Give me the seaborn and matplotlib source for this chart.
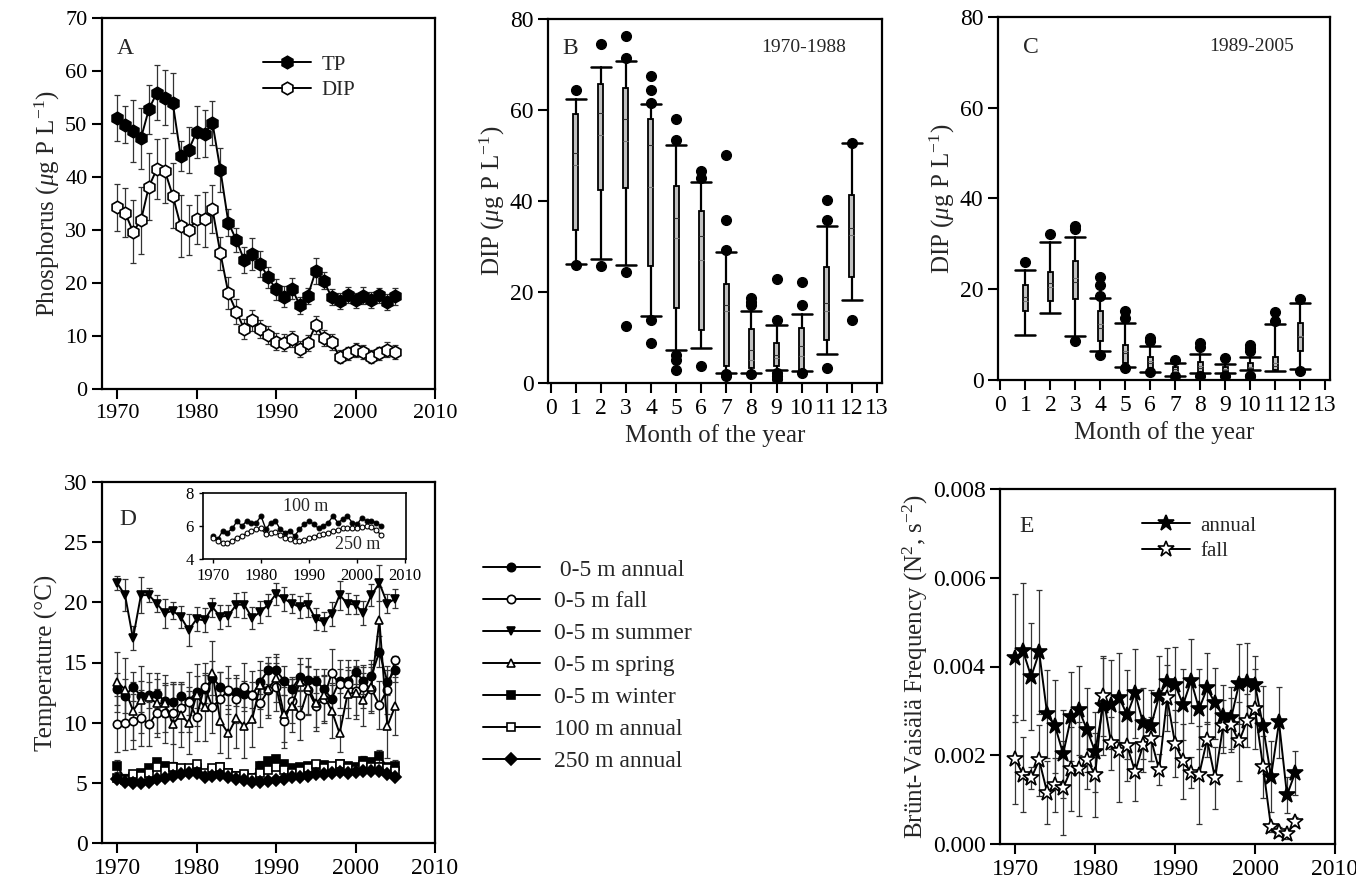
import numpy as np
import matplotlib
matplotlib.use("Agg")
import matplotlib.pyplot as plt
import seaborn as sns

# ---- data ----
years = np.arange(1970, 2006)

# A: phosphorus
tp = [51.1, 49.9, 48.7, 47.3, 52.8, 55.9, 55.0, 54.0, 44.0, 45.1, 48.5, 48.2, 50.2, 41.3,
      31.4, 28.1, 24.3, 25.4, 23.6, 21.1, 18.8, 17.4, 18.9, 15.8, 17.6, 22.3, 20.4, 17.3,
      16.6, 17.7, 16.7, 17.6, 16.8, 17.7, 16.5, 17.5]
tp_err = [4.3, 3.5, 5.8, 5.7, 4.6, 5.2, 5.2, 5.7, 2.8, 4.4, 4.9, 4.5, 4.2, 4.1,
          2.6, 2.2, 2.5, 3.0, 2.4, 2.0, 2.0, 2.0, 2.0, 1.6, 1.5, 2.4, 1.6, 1.5,
          1.5, 1.5, 1.5, 1.6, 1.5, 1.4, 1.5, 1.6]
dip = [34.3, 33.3, 29.7, 31.8, 38.2, 41.5, 41.2, 36.5, 30.8, 30.0, 32.0, 32.0, 33.9, 25.6,
       18.1, 14.6, 11.3, 13.0, 11.3, 10.1, 8.9, 8.7, 9.4, 7.5, 8.7, 12.1, 9.6, 8.8,
       6.1, 6.7, 7.4, 7.0, 6.1, 6.7, 7.4, 7.0]
dip_err = [4.4, 4.7, 6.0, 6.4, 6.4, 5.7, 6.1, 6.1, 5.8, 4.7, 4.6, 5.2, 4.5, 3.1,
           3.0, 2.4, 1.9, 2.0, 1.7, 1.7, 1.6, 1.6, 1.5, 1.5, 1.5, 1.7, 1.5, 1.5,
           1.2, 1.3, 1.3, 1.3, 1.2, 1.3, 1.4, 1.3]

# B: DIP by month 1970-1988
months = list(range(1, 13))
b_q1 = [33.7, 42.5, 42.9, 25.8, 16.5, 11.7, 3.8, 3.3, 3.7, 2.9, 9.5, 23.2]
b_med = [50.5, 59.3, 58.0, 52.4, 36.3, 32.4, 17.2, 7.3, 6.2, 8.1, 17.6, 34.0]
b_q3 = [59.2, 65.8, 64.8, 58.0, 43.2, 37.7, 21.8, 11.9, 8.9, 12.1, 25.5, 41.3]
b_mean = [48.0, 54.4, 53.1, 43.0, 31.9, 27.1, 15.8, 5.1, 5.5, 5.9, 15.8, 32.5]
b_lo = [26.2, 27.3, 26.0, 14.8, 7.2, 7.7, 2.2, 2.2, 2.8, 2.6, 6.4, 18.3]
b_hi = [62.4, 69.5, 70.7, 61.3, 52.2, 44.1, 28.8, 15.9, 12.7, 15.2, 34.6, 52.7]
b_out = [[64.5, 26.0], [74.5, 25.8], [76.2, 71.4, 24.5, 12.5], [67.4, 64.5, 61.5, 13.9, 8.9],
         [58.0, 53.5, 6.2, 5.1, 2.9], [46.7, 45.1, 3.8], [50.2, 35.8, 29.3, 2.0, 1.5],
         [18.7, 17.9, 17.2, 2.0], [22.9, 13.8, 2.2, 1.5, 0.9], [22.1, 17.2, 2.2],
         [40.3, 35.9, 3.3], [52.7, 13.9]]

# C: DIP by month 1989-2005
c_q1 = [15.1, 17.4, 17.9, 8.6, 3.7, 2.6, 1.2, 1.5, 1.8, 2.2, 2.2, 6.5]
c_med = [18.2, 21.3, 21.7, 11.4, 5.9, 3.8, 2.4, 2.6, 2.3, 2.6, 3.0, 9.5]
c_q3 = [21.0, 23.8, 26.3, 15.2, 7.7, 5.1, 2.9, 4.0, 2.9, 3.7, 5.0, 12.5]
c_mean = [17.5, 20.5, 22.5, 12.3, 6.3, 4.2, 2.0, 3.0, 2.4, 2.8, 3.8, 9.8]
c_lo = [9.9, 14.7, 9.6, 6.5, 2.9, 1.8, 0.95, 1.5, 1.6, 2.1, 2.0, 2.5]
c_hi = [24.3, 30.5, 31.5, 18.0, 12.6, 7.5, 3.7, 5.7, 3.5, 5.0, 12.3, 17.0]
c_out = [[25.9], [32.2], [34.0, 33.2, 8.5], [22.8, 21.0, 18.6, 5.5], [15.2, 13.6, 2.6],
         [9.2, 8.5, 1.7], [4.5, 0.9], [8.1, 7.3, 0.9], [4.8, 0.9], [7.7, 7.0, 6.3, 0.9, 0.8],
         [15.0, 13.0], [17.8, 2.0]]

# D: temperature
t_annual = [12.8, 12.2, 13.0, 12.2, 12.3, 12.4, 11.8, 11.7, 12.2, 11.8, 12.55, 12.8, 13.7, 13.0,
            12.6, 12.55, 12.4, 12.3, 13.4, 14.35, 14.35, 13.5, 12.8, 13.8, 13.55, 13.5, 12.8, 12.0,
            13.5, 13.5, 14.2, 13.5, 13.9, 15.9, 13.4, 14.4]
t_annual_err = [1.3, 1.4, 1.2, 1.3, 1.1, 1.2, 1.3, 1.5, 1.2, 1.2, 1.3, 1.2, 1.4, 1.2,
                1.1, 1.2, 1.1, 1.1, 1.0, 1.1, 1.1, 1.2, 1.0, 1.1, 1.1, 1.0, 1.1, 1.1,
                1.0, 1.1, 1.0, 1.1, 1.0, 1.3, 1.0, 1.0]
t_fall = [9.9, 10.0, 10.1, 10.4, 9.9, 10.8, 10.8, 10.8, 11.2, 11.7, 10.5, 13.0, 11.3, 12.0,
          12.7, 12.0, 13.0, 12.3, 11.6, 12.7, 13.0, 10.1, 11.8, 10.6, 12.7, 11.4, 12.0, 14.1,
          13.2, 13.2, 12.6, 13.0, 12.8, 11.5, 12.75, 15.2]
t_fall_err = [2.3, 2.3, 2.3, 2.3, 1.8, 2.0, 2.5, 2.6, 2.0, 2.5, 2.0, 2.0, 2.2, 2.2,
              2.0, 2.0, 2.0, 2.0, 2.0, 2.3, 2.0, 2.2, 1.8, 2.0, 2.0, 1.8, 2.0, 2.0,
              2.0, 2.0, 2.0, 1.8, 1.8, 2.0, 2.0, 0.3]
t_summer = [21.6, 20.6, 17.0, 20.6, 20.6, 19.9, 19.1, 19.3, 18.8, 17.7, 18.6, 18.5, 19.6, 18.8,
            18.9, 19.8, 19.8, 18.7, 19.2, 19.8, 20.7, 20.3, 19.9, 19.6, 19.8, 18.6, 18.4, 19.0,
            20.6, 19.9, 19.8, 19.1, 20.6, 21.6, 19.9, 20.3]
t_summer_err = [0.6, 1.3, 1.0, 1.5, 0.6, 0.7, 1.2, 0.7, 0.9, 1.3, 1.0, 1.0, 0.8, 1.0,
                0.9, 1.0, 1.1, 0.9, 0.9, 0.9, 0.9, 1.0, 0.8, 0.9, 1.0, 0.9, 0.8, 1.0,
                1.2, 0.9, 0.8, 1.0, 0.9, 1.5, 0.8, 0.8]
t_spring = [13.4, 12.75, 11.0, 11.9, 12.1, 11.6, 11.6, 9.9, 10.6, 10.0, 12.3, 11.3, 14.1, 10.1,
            9.1, 10.4, 9.7, 10.3, 13.1, 12.8, 13.7, 10.7, 11.4, 13.4, 13.0, 11.6, 12.3, 11.0,
            9.1, 12.4, 12.5, 11.9, 13.0, 18.5, 9.7, 11.4]
t_spring_err = [2.5, 2.6, 2.4, 2.8, 2.0, 2.5, 2.4, 3.3, 2.6, 2.6, 2.6, 2.8, 2.7, 2.6,
                2.0, 2.5, 2.6, 2.3, 2.0, 2.2, 2.0, 2.3, 2.2, 2.0, 2.4, 2.3, 2.2, 2.3,
                1.5, 2.0, 2.2, 2.2, 2.2, 2.8, 2.6, 2.4]
t_winter = [6.4, 5.3, 5.5, 5.8, 6.2, 6.7, 6.4, 6.3, 6.1, 6.1, 6.2, 5.7, 6.0, 6.3,
            5.8, 5.6, 5.6, 5.4, 6.4, 6.8, 7.0, 6.6, 6.2, 6.3, 6.4, 6.5, 6.5, 6.3,
            6.6, 6.4, 6.3, 6.8, 6.7, 7.2, 6.3, 6.4]
t_winter_err = [0.5, 0.4, 0.3, 0.3, 0.3, 0.3, 0.3, 0.4, 0.3, 0.3, 0.3, 0.3, 0.4, 0.3,
                0.3, 0.3, 0.3, 0.3, 0.4, 0.3, 0.3, 0.3, 0.3, 0.3, 0.3, 0.3, 0.3, 0.3,
                0.3, 0.3, 0.3, 0.4, 0.4, 0.5, 0.3, 0.5]
t_100 = [5.4, 5.2, 5.7, 5.6, 5.85, 6.3, 6.0, 6.3, 6.2, 6.2, 6.6, 5.8, 6.2, 6.3,
         5.8, 5.6, 5.7, 5.4, 5.8, 6.1, 6.3, 6.1, 5.85, 6.0, 6.2, 6.6, 6.2, 6.4,
         6.6, 6.2, 6.1, 6.5, 6.3, 6.3, 6.2, 6.0]
t_250 = [5.3, 5.1, 5.0, 5.0, 5.1, 5.3, 5.4, 5.55, 5.7, 5.8, 5.85, 5.5, 5.55, 5.65,
         5.45, 5.3, 5.2, 5.1, 5.1, 5.15, 5.25, 5.35, 5.45, 5.5, 5.6, 5.7, 5.75, 5.85,
         5.9, 5.85, 5.9, 5.95, 6.0, 5.95, 5.75, 5.45]

# E: Brunt-Vaisala frequency
bv_annual = [4.19, 4.34, 3.77, 4.32, 2.93, 2.65, 2.03, 2.87, 3.01, 2.57, 2.08, 3.10, 3.14, 3.30,
             2.91, 3.40, 2.72, 2.67, 3.34, 3.66, 3.59, 3.14, 3.68, 3.04, 3.51, 3.17, 2.89, 2.83,
             3.61, 3.64, 3.59, 2.65, 1.52, 2.74, 1.10, 1.60]
bv_annual_err = [1.45, 1.55, 1.2, 1.4, 1.0, 1.05, 1.0, 1.0, 1.0, 0.95, 0.9, 1.1, 1.0, 1.0,
                 1.0, 1.0, 0.8, 0.8, 0.9, 0.75, 0.85, 0.8, 0.95, 0.9, 0.8, 0.8, 0.7, 0.7,
                 0.9, 0.9, 0.65, 0.9, 0.8, 0.8, 0.4, 0.5]
bv_fall = [1.91, 1.56, 1.48, 1.89, 1.16, 1.33, 1.26, 1.69, 1.69, 1.89, 1.56, 3.34, 2.27, 2.10,
           2.21, 1.63, 2.23, 2.36, 1.67, 3.29, 2.26, 1.86, 1.61, 1.56, 2.35, 1.48, 2.65, 2.68,
           2.31, 2.78, 3.04, 1.74, 0.38, 0.28, 0.22, 0.50]
bv_fall_err = [1.0, 0.85, 0.25, 0.8, 0.7, 0.6, 1.05, 0.95, 1.05, 0.65, 0.95, 0.9, 0.6, 1.15,
               0.8, 0.65, 0.6, 0.5, 0.35, 0.75, 0.75, 0.85, 0.35, 1.1, 0.4, 0.7, 0.6, 0.6,
               0.9, 0.6, 0.9, 0.7, 0.1, 0.1, 0.1, 0.1]

# ---- style ----
sns.set_style("ticks")
plt.rcParams['font.family'] = ['Liberation Serif', 'DejaVu Serif']
plt.rcParams['mathtext.fontset'] = 'custom'
plt.rcParams['mathtext.rm'] = 'Liberation Serif'
plt.rcParams['mathtext.it'] = 'Liberation Serif:italic'
plt.rcParams['axes.linewidth'] = 1.6
plt.rcParams['axes.edgecolor'] = 'black'

fig = plt.figure(figsize=(13.56, 8.92), dpi=100)
W, H = 1356, 892


def px_axes(l, t, r, b):
    return fig.add_axes([l / W, 1 - b / H, (r - l) / W, (b - t) / H])


def style(ax, size):
    for s in ax.spines.values():
        s.set_visible(True)
        s.set_color('k')
        s.set_linewidth(1.6)
    ax.tick_params(direction='out', length=7, width=1.5, labelsize=size, colors='k')
    ax.grid(False)


def series(ax, y, err, marker, fill, label, ms=9, ecol='#333333'):
    if err is not None:
        ax.errorbar(years, y, yerr=err, fmt='none', ecolor=ecol, elinewidth=0.9,
                    capsize=2, capthick=0.9, zorder=1)
    sns.lineplot(x=years, y=y, ax=ax, color='k', marker=marker, markersize=ms,
                 markerfacecolor=fill, markeredgecolor='k', markeredgewidth=1.2,
                 linewidth=1.4, label=label, zorder=3)


def boxes(ax, q1, med, q3, mean, lo, hi, out):
    stats = []
    for i in range(12):
        stats.append(dict(q1=q1[i], med=med[i], q3=q3[i], mean=mean[i],
                          whislo=lo[i], whishi=hi[i], fliers=out[i]))
    ax.bxp(stats, positions=months, widths=0.2, capwidths=0.8, patch_artist=True,
           showmeans=True, meanline=True, manage_ticks=False,
           boxprops=dict(facecolor='#c0c0c0', edgecolor='k', linewidth=1.3),
           whiskerprops=dict(color='k', linewidth=1.6),
           capprops=dict(color='k', linewidth=1.8),
           medianprops=dict(color='#333333', linewidth=0.8),
           meanprops=dict(color='#777777', linewidth=0.8, linestyle='-'),
           flierprops=dict(marker='o', markerfacecolor='k', markeredgecolor='k', markersize=7))
    ax.set_xlim(-0.1, 13.2)
    ax.set_ylim(0, 80)
    ax.set_xticks(range(0, 14))
    ax.set_yticks([0, 20, 40, 60, 80])
    ax.set_xlabel('Month of the year', fontsize=18)
    ax.set_ylabel(r'DIP ($\mu$g P L$^{-1}$)', fontsize=18, labelpad=2)


# ---- A ----
axA = px_axes(102, 18, 435, 389)
series(axA, tp, tp_err, 'h', 'k', 'TP')
series(axA, dip, dip_err, 'h', 'white', 'DIP')
axA.set_xlim(1968.1, 2010)
axA.set_ylim(0, 70)
axA.set_xticks([1970, 1980, 1990, 2000, 2010])
axA.set_yticks(range(0, 71, 10))
axA.set_xlabel('')
axA.set_ylabel(r'Phosphorus ($\mu$g P L$^{-1}$)', fontsize=18, labelpad=2)
style(axA, 16)
axA.text(0.069, 0.919, 'A', transform=axA.transAxes, fontsize=17, ha='center', va='center')
axA.legend(loc='upper left', bbox_to_anchor=(263 / W, 1 - 55 / H), bbox_transform=fig.transFigure,
           frameon=False, fontsize=15, handlelength=2.3, handletextpad=0.5, labelspacing=0.3,
           borderpad=0, borderaxespad=0)

# ---- B ----
axB = px_axes(548, 19, 882, 383)
boxes(axB, b_q1, b_med, b_q3, b_mean, b_lo, b_hi, b_out)
style(axB, 17)
axB.text(0.066, 0.92, 'B', transform=axB.transAxes, fontsize=17, ha='center', va='center')
axB.text(0.766, 0.923, '1970-1988', transform=axB.transAxes, fontsize=14, ha='center', va='center')

# ---- C ----
axC = px_axes(998, 17, 1330, 380)
boxes(axC, c_q1, c_med, c_q3, c_mean, c_lo, c_hi, c_out)
style(axC, 17)
axC.text(0.099, 0.915, 'C', transform=axC.transAxes, fontsize=17, ha='center', va='center')
axC.text(0.765, 0.92, '1989-2005', transform=axC.transAxes, fontsize=14, ha='center', va='center')

# ---- D ----
axD = px_axes(102, 482, 435, 843)
series(axD, t_annual, t_annual_err, 'o', 'k', ' 0-5 m annual', ms=8)
series(axD, t_fall, t_fall_err, 'o', 'white', '0-5 m fall', ms=8)
series(axD, t_summer, t_summer_err, 'v', 'k', '0-5 m summer', ms=9)
series(axD, t_spring, t_spring_err, '^', 'white', '0-5 m spring', ms=9)
series(axD, t_winter, t_winter_err, 's', 'k', '0-5 m winter', ms=8)
series(axD, t_100, None, 's', 'white', '100 m annual', ms=8)
series(axD, t_250, None, 'D', 'k', '250 m annual', ms=7)
axD.set_xlim(1968.1, 2010)
axD.set_ylim(0, 30)
axD.set_xticks([1970, 1980, 1990, 2000, 2010])
axD.set_yticks(range(0, 31, 5))
axD.set_xlabel('')
axD.set_ylabel('Temperature (°C)', fontsize=18)
style(axD, 17)
axD.text(0.078, 0.897, 'D', transform=axD.transAxes, fontsize=17, ha='center', va='center')
hD, lD = axD.get_legend_handles_labels()
for h in hD:
    h.set_markersize(6)
axD.legend(hD, lD, loc='upper left', bbox_to_anchor=(483 / W, 1 - 559 / H),
           bbox_transform=fig.transFigure, frameon=False, fontsize=17, handlelength=2.4,
           handletextpad=0.6, labelspacing=0.44, borderpad=0, borderaxespad=0)

# inset
axI = px_axes(203, 493, 406, 559)
sns.lineplot(x=years, y=t_100, ax=axI, color='k', marker='o', markersize=3.5,
             markerfacecolor='k', markeredgecolor='k', linewidth=1.0)
sns.lineplot(x=years, y=t_250, ax=axI, color='k', marker='o', markersize=3.5,
             markerfacecolor='white', markeredgecolor='k', markeredgewidth=0.8, linewidth=1.0)
axI.set_xlim(1967.9, 2010.2)
axI.set_ylim(4, 8)
axI.set_xticks([1970, 1980, 1990, 2000, 2010])
axI.set_yticks([4, 6, 8])
axI.set_xlabel('')
axI.set_ylabel('')
style(axI, 12)
axI.tick_params(length=3, width=1.0)
for s in axI.spines.values():
    s.set_linewidth(1.2)
axI.text(1989.4, 7.2, '100 m', fontsize=13, ha='center', va='center')
axI.text(2000.2, 4.85, '250 m', fontsize=13, ha='center', va='center')

# ---- E ----
axE = px_axes(1000, 489, 1335, 844)
series(axE, np.array(bv_annual) / 1000, np.array(bv_annual_err) / 1000, '*', 'k', 'annual', ms=12)
series(axE, np.array(bv_fall) / 1000, np.array(bv_fall_err) / 1000, '*', 'white', 'fall', ms=12)
axE.set_xlim(1968.1, 2010)
axE.set_ylim(0, 0.008)
axE.set_xticks([1970, 1980, 1990, 2000, 2010])
axE.set_yticks([0, 0.002, 0.004, 0.006, 0.008])
axE.yaxis.set_major_formatter(matplotlib.ticker.FormatStrFormatter('%.3f'))
axE.set_xlabel('')
axE.set_ylabel(r'Brünt-Vaisälä Frequency (N$^2$, s$^{-2}$)', fontsize=18, labelpad=2)
style(axE, 17)
axE.text(0.078, 0.893, 'E', transform=axE.transAxes, fontsize=17, ha='center', va='center')
axE.legend(loc='upper left', bbox_to_anchor=(1142 / W, 1 - 516 / H), bbox_transform=fig.transFigure,
           frameon=False, fontsize=15, handlelength=2.3, handletextpad=0.5, labelspacing=0.3,
           borderpad=0, borderaxespad=0)

fig.savefig('out.png', dpi=100)
